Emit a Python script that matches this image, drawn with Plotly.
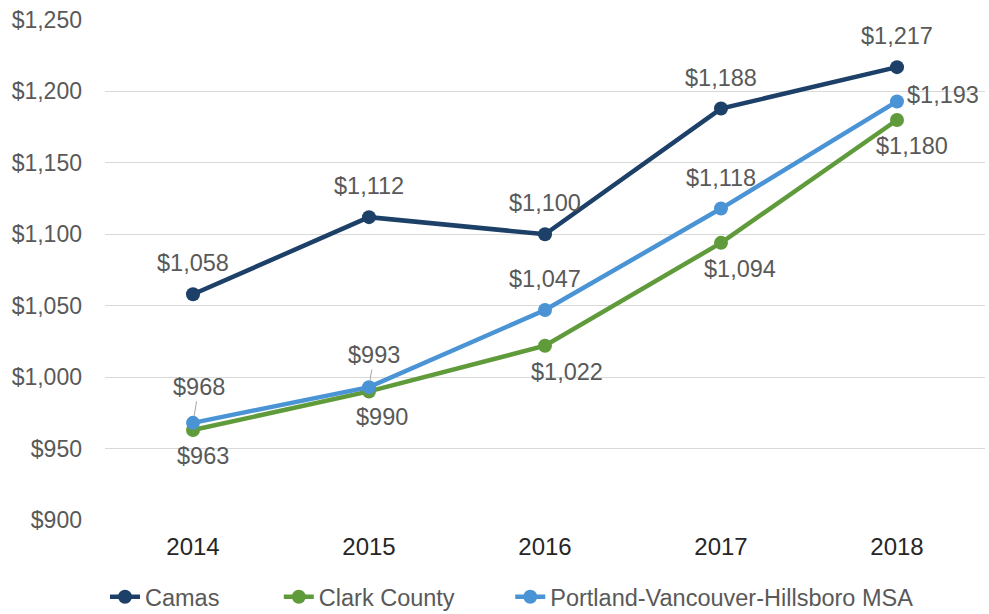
import plotly.graph_objects as go

years = ["2014", "2015", "2016", "2017", "2018"]
camas = [1058, 1112, 1100, 1188, 1217]
clark = [963, 990, 1022, 1094, 1180]
portland = [968, 993, 1047, 1118, 1193]

y_ticks = [900, 950, 1000, 1050, 1100, 1150, 1200, 1250]

C_CAMAS = "#1C4068"
C_CLARK = "#609B3B"
C_PORT = "#4A94D6"
TXT = "#595959"
FONT = "Liberation Sans, Arial, sans-serif"
FS = 23.5

series = [("Camas", camas, C_CAMAS, "legend"),
          ("Clark County", clark, C_CLARK, "legend2"),
          ("Portland-Vancouver-Hillsboro MSA", portland, C_PORT, "legend3")]

fig = go.Figure()
for name, vals, col, lg in series:
    fig.add_trace(go.Scatter(
        x=years, y=vals, name=name, mode="lines+markers",
        line=dict(color=col, width=4.5),
        marker=dict(color=col, size=14),
        legend=lg,
    ))

def money(v):
    return "${:,}".format(v)

anns = []
# Camas: labels above the points
for i, v in enumerate(camas):
    anns.append(dict(x=i, y=v, text=money(v), showarrow=False, yshift=31))
# Clark County: labels below the points
clark_dx = [10, 13, 22, 19, 15]
for i, v in enumerate(clark):
    anns.append(dict(x=i, y=v, text=money(v), showarrow=False,
                     xshift=clark_dx[i], yshift=-26))
# Portland MSA: above (with leader lines for the first two), right of the last
for i, v in enumerate(portland):
    if i in (0, 1):
        anns.append(dict(x=i, y=v, text=money(v), showarrow=True,
                         ax=(6 if i == 0 else 5), ay=(-36 if i == 0 else -32),
                         arrowhead=0, arrowwidth=1, arrowcolor="#A6A6A6",
                         standoff=7))
    elif i == 4:
        anns.append(dict(x=i, y=v, text=money(v), showarrow=False,
                         xshift=46, yshift=6))
    else:
        anns.append(dict(x=i, y=v, text=money(v), showarrow=False, yshift=31))
for a in anns:
    a["font"] = dict(family=FONT, size=FS, color=TXT)
    a["xref"] = "x"
    a["yref"] = "y"

legend_font = dict(family=FONT, size=FS, color=TXT)
def legend_at(x):
    return dict(orientation="h", x=x, xanchor="left", y=-0.154, yanchor="middle",
                font=legend_font, bgcolor="rgba(0,0,0,0)", borderwidth=0)

fig.update_layout(
    width=989, height=614,
    margin=dict(l=105, r=4, t=20, b=94, autoexpand=False),
    paper_bgcolor="white", plot_bgcolor="white",
    font=dict(family=FONT, size=FS, color=TXT),
    showlegend=True,
    legend=legend_at(0.0),
    legend2=legend_at(0.1975),
    legend3=legend_at(0.4605),
    annotations=anns,
    xaxis=dict(type="category", range=[-0.5, 4.5], showgrid=False,
               showline=False, zeroline=False, ticks="",
               ticklabelstandoff=10,
               tickfont=dict(family=FONT, size=24, color="#262626")),
    yaxis=dict(range=[900, 1250], tickvals=y_ticks,
               ticktext=[money(v) for v in y_ticks],
               showgrid=True, gridcolor="#D9D9D9", gridwidth=1,
               zeroline=False, showline=False, ticks="",
               ticklabelstandoff=22,
               tickfont=dict(family=FONT, size=23, color=TXT)),
)

fig.write_html("out.html")
